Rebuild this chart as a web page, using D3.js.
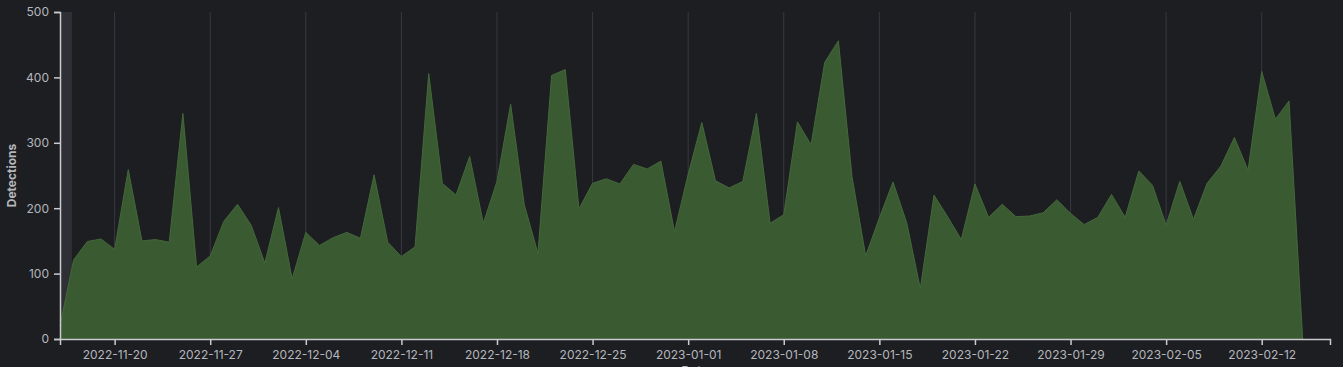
<!DOCTYPE html>
<html>
<head>
<meta charset="utf-8">
<script src="https://cdn.jsdelivr.net/npm/d3@7"></script>
<style>
  html, body { margin: 0; padding: 0; background: #1d1e22; overflow: hidden; }
  svg { display: block; }
</style>
</head>
<body>
<svg id="chart" width="1343" height="367"></svg>
<script>
const startDate = "2022-11-16";
const endDomain = "2023-02-17";
const values = [
  20, 121, 149, 153, 137, 259, 150, 152, 148, 345, 110, 127, 180, 206, 174,
  116, 201, 92, 163, 143, 155, 163, 154, 251, 148, 126, 141, 406, 238, 220,
  279, 177, 241, 359, 205, 131, 403, 412, 199, 238, 245, 237, 267, 260, 272,
  164, 252, 331, 242, 231, 241, 345, 177, 190, 332, 297, 423, 456, 248, 127,
  185, 240, 178, 77, 220, 187, 152, 237, 186, 206, 187, 188, 193, 213, 192,
  175, 186, 221, 186, 257, 235, 174, 241, 183, 238, 264, 308, 258, 409, 336,
  364, 0
];
const yTicks = [0, 100, 200, 300, 400, 500];
const yLabel = "Detections";
const xLabel = "Date";

const parse = d3.utcParse("%Y-%m-%d");
const t0 = parse(startDate);
const data = values.map((v, i) => ({ date: d3.utcDay.offset(t0, i), value: v }));

const margin = { left: 60, right: 13, top: 12, bottom: 28 };
const W = 1343, H = 367;
const svg = d3.select("#chart");

const x = d3.scaleUtc()
  .domain([t0, parse(endDomain)])
  .range([margin.left, W - margin.right]);
const y = d3.scaleLinear().domain([0, 500]).range([H - margin.bottom, margin.top]);

const weekTicks = d3.utcSunday.range(t0, parse(endDomain));

// grid lines
svg.append("g").selectAll("line").data(weekTicks).join("line")
  .attr("x1", d => x(d)).attr("x2", d => x(d))
  .attr("y1", y(500)).attr("y2", y(0))
  .attr("stroke", "#383940").attr("stroke-width", 1);

// hover band
svg.append("rect")
  .attr("x", x(t0))
  .attr("width", x(d3.utcHour.offset(t0, 21)) - x(t0))
  .attr("y", y(500)).attr("height", y(0) - y(500))
  .attr("fill", "#2f3035");

// area
const area = d3.area().x(d => x(d.date)).y0(y(0)).y1(d => y(d.value));
const line = d3.line().x(d => x(d.date)).y(d => y(d.value));
svg.append("path").datum(data).attr("d", area).attr("fill", "#3a5a31");
svg.append("path").datum(data).attr("d", line)
  .attr("fill", "none").attr("stroke", "#44683a").attr("stroke-width", 1);

// axes
const fmt = d3.utcFormat("%Y-%m-%d");
const xAxis = svg.append("g").attr("transform", `translate(0,${y(0)})`)
  .call(d3.axisBottom(x).tickValues(weekTicks).tickFormat(fmt).tickSize(6).tickPadding(5));
const yAxis = svg.append("g").attr("transform", `translate(${margin.left},0)`)
  .call(d3.axisLeft(y).tickValues(yTicks).tickSize(6).tickPadding(5));

[xAxis, yAxis].forEach(g => {
  g.selectAll("path, line").attr("stroke", "#c9cbd0").attr("stroke-width", 1.5);
  g.selectAll("text").attr("fill", "#b4b7bd")
    .style("font-family", "Inter, 'Noto Sans', sans-serif").style("font-size", "12px");
});

svg.append("text")
  .attr("transform", `translate(16,${(y(0) + y(500)) / 2}) rotate(-90)`)
  .attr("text-anchor", "middle")
  .attr("fill", "#b4b7bd")
  .style("font-family", "Inter, 'Noto Sans', sans-serif")
  .style("font-size", "12px").style("font-weight", "700")
  .text(yLabel);

svg.append("text")
  .attr("x", (x.range()[0] + x.range()[1]) / 2)
  .attr("y", 375)
  .attr("text-anchor", "middle")
  .attr("fill", "#b4b7bd")
  .style("font-family", "Inter, 'Noto Sans', sans-serif")
  .style("font-size", "12px").style("font-weight", "700")
  .text(xLabel);
</script>
</body>
</html>
